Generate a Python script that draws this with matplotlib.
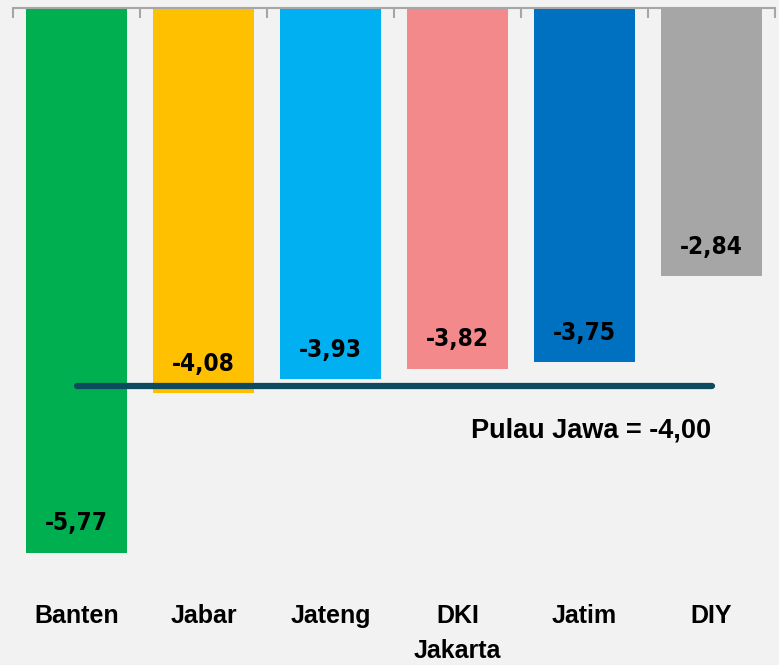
import matplotlib.pyplot as plt

# data
wilayah = ['Banten', 'Jabar', 'Jateng', 'DKI\nJakarta', 'Jatim', 'DIY']
nilai = [-5.77, -4.08, -3.93, -3.82, -3.75, -2.84]
warna = ['#00B050', '#FFC000', '#00B0F0', '#F4898C', '#0070C0', '#A6A6A6']
pulau_jawa = -4.00

fig = plt.figure(figsize=(7.79, 6.65), dpi=100)
fig.patch.set_facecolor('#F2F2F2')
ax = fig.add_axes([13 / 779, 1 - 580 / 665, 762 / 779, 572 / 665])
ax.set_facecolor('#F2F2F2')

x = list(range(len(wilayah)))
ax.bar(x, nilai, width=0.8, color=warna, zorder=2)

# garis rata-rata Pulau Jawa
ax.plot([x[0], x[-1]], [pulau_jawa, pulau_jawa], color='#0E4A5E', lw=4.5,
        solid_capstyle='round', zorder=3)
ax.text(x[-1], pulau_jawa - 0.48, 'Pulau Jawa = ' + f'{pulau_jawa:.2f}'.replace('.', ','),
        ha='right', va='center', fontsize=19.5, fontweight='bold',
        family=['Liberation Sans', 'DejaVu Sans'])

# label nilai
for xi, v in zip(x, nilai):
    ax.annotate(f'{v:.2f}'.replace('.', ','), (xi, v), xytext=(0, 21), textcoords='offset points',
                ha='center', va='center', fontsize=17.5, fontweight='bold', fontstretch='condensed',
                family=['DejaVu Sans'], zorder=4)

ax.set_xlim(-0.5, len(wilayah) - 0.5)
ax.set_ylim(-6.06, 0)

for s in ['left', 'right', 'bottom']:
    ax.spines[s].set_visible(False)
ax.spines['top'].set_color('#A6A6A6')
ax.spines['top'].set_linewidth(1.5)

ax.set_yticks([])
ax.set_xticks(x)
ax.set_xticklabels(wilayah, fontsize=18, fontweight='bold', family=['Liberation Sans', 'DejaVu Sans'],
                   linespacing=1.6, va='top')
ax.tick_params(axis='x', which='major', length=0, pad=17)
ax.set_xticks([i - 0.5 for i in range(len(wilayah) + 1)], minor=True)
ax.tick_params(axis='x', which='minor', top=True, bottom=False, direction='in',
               length=7, width=1.5, color='#A6A6A6')

fig.savefig('out.png', dpi=100, facecolor=fig.get_facecolor())
